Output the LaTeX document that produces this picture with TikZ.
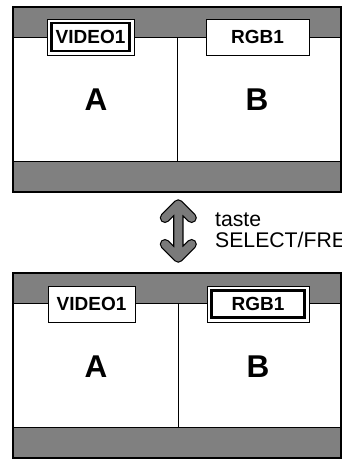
\documentclass[tikz,border=0pt]{standalone}
\usepackage{fontspec}
\setmainfont{Liberation Sans}
\definecolor{bandgray}{RGB}{128,128,128}
\definecolor{arrowgray}{RGB}{122,122,122}
\begin{document}
\begin{tikzpicture}[x=1pt,y=-1pt,
  frame/.style={draw=black, line width=2.5pt},
  thinline/.style={draw=black, line width=1pt},
  srclabel/.style={draw=black, fill=white, line width=1pt, minimum height=36pt,
    inner sep=0pt, font=\bfseries\fontsize{19}{21}\selectfont},
  selmark/.style={draw=black, line width=2.5pt},
  letter/.style={inner sep=0pt, font=\bfseries\fontsize{31.5}{34}\selectfont},
  caption/.style={anchor=base west, inner sep=0pt, font=\fontsize{21.2}{22}\selectfont}]
\useasboundingbox (0,0) rectangle (342,461);
\clip (0,0) rectangle (342,461);

% ---- top panel ----
\fill[bandgray] (13,7) rectangle (341,192);
\fill[white] (13,37) rectangle (341,161);
\draw[thinline] (13,37) -- (341,37);
\draw[thinline] (13,161) -- (341,161);
\draw[thinline] (177,37) -- (177,161);
\draw[frame] (13,7) rectangle (341,192);
\node[srclabel, minimum width=87pt] (tv) at (90.5,37) {VIDEO1};
\draw[selmark] (51.5,23) rectangle (129.5,51);
\node[srclabel, minimum width=103pt] (tr) at (257.5,37) {RGB1};
\node[letter] (ta) at (96,100) {A};
\node[letter] (tb) at (257,100) {B};

% ---- arrow ----
\foreach \w/\c in {10.5pt/black, 8pt/arrowgray}{
  \draw[line width=\w, draw=\c, line cap=round, line join=round]
    (178.3,204.5) -- (178.3,257.5)
    (165,217.8) -- (178.3,204.5) -- (191.6,217.8)
    (165,244.2) -- (178.3,257.5) -- (191.6,244.2);
}
\node[caption] (c1) at (215,226) {taste};
\node[caption] (c2) at (215,247) {SELECT/FREEZE};

% ---- bottom panel ----
\fill[bandgray] (13,273) rectangle (341,458);
\fill[white] (13,303) rectangle (341,427);
\draw[thinline] (13,303) -- (341,303);
\draw[thinline] (13,427) -- (341,427);
\draw[thinline] (178,303) -- (178,427);
\draw[frame] (13,273) rectangle (341,458);
\node[srclabel, minimum width=87pt] (bv) at (91.5,304) {VIDEO1};
\node[srclabel, minimum width=102pt] (br) at (258,304) {RGB1};
\draw[selmark] (211.5,290.5) rectangle (304.5,317.5);
\node[letter] (ba) at (96,367) {A};
\node[letter] (bb) at (258,367) {B};
\end{tikzpicture}
\end{document}
